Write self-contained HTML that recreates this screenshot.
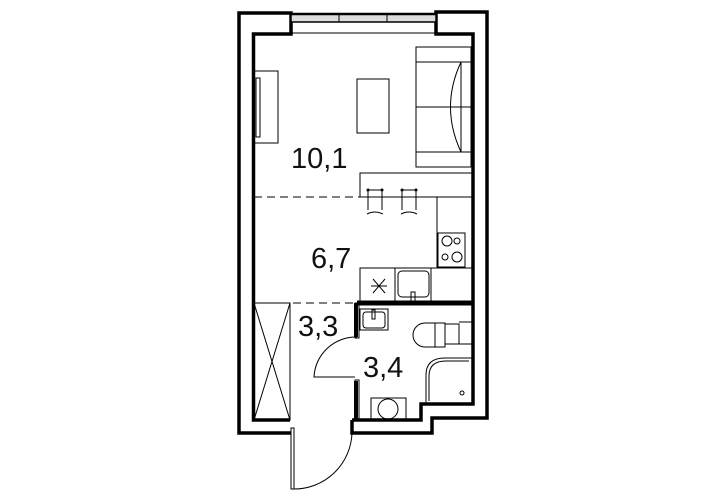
<!DOCTYPE html><html><head><style>body{margin:0;background:#fff}svg{display:block}text{font-family:"Liberation Sans",sans-serif;font-size:29px;fill:#111}</style></head><body>
<svg width="725" height="500" viewBox="0 0 725 500" xmlns="http://www.w3.org/2000/svg">
<g fill="none" stroke="#000">
<!-- walls -->
<path d="M291,433 H239 V13 H291 V22" stroke-width="3.5"/>
<path d="M290,420 H253.5 V34 H291 V22" stroke-width="3.5"/>
<path d="M436,22 V12 H487 V418 H432 V433 H352 V420" stroke-width="3.5"/>
<path d="M436,22 V34 H473 V404 H421 V420 H352" stroke-width="3.5"/>
<!-- window -->
<rect x="291" y="14" width="145" height="8" fill="#ddd" stroke-width="1.5"/>
<line x1="291" y1="14" x2="436" y2="14" stroke-width="2.5"/>
<line x1="291" y1="33" x2="436" y2="33" stroke-width="1"/>
<line x1="339" y1="14" x2="339" y2="22" stroke-width="1"/><line x1="387" y1="14" x2="387" y2="22" stroke-width="1"/>
<!-- bath walls -->
<path d="M357,303 H473" stroke-width="5"/>
<path d="M356,303 V337" stroke-width="4"/>
<path d="M356,381 V420" stroke-width="4"/>
<g stroke-width="1">
<rect x="355" y="303" width="4" height="35"/><rect x="355" y="380" width="4" height="40"/>
<!-- dashed -->
<line x1="254" y1="197" x2="360" y2="197" stroke-dasharray="8,5"/>
<line x1="254" y1="303" x2="355" y2="303" stroke-dasharray="8,5"/>
<!-- tv -->
<rect x="254" y="71" width="24" height="72"/><rect x="256" y="78" width="4" height="59"/>
<!-- table -->
<rect x="357" y="79" width="32" height="54"/>
<!-- sofa -->
<rect x="416" y="47" width="55" height="120"/>
<line x1="416" y1="62" x2="471" y2="62"/><line x1="416" y1="107" x2="471" y2="107"/><line x1="416" y1="152" x2="471" y2="152"/>
<path d="M461,62 Q440,107 461,152"/><line x1="461" y1="62" x2="461" y2="152"/>
<!-- kitchen -->
<rect x="360" y="173" width="113" height="24"/>
<path d="M437,197 V268"/>
<rect x="438" y="233" width="27" height="34"/>
<circle cx="447" cy="241" r="5"/><circle cx="457" cy="241" r="3"/><circle cx="445" cy="257" r="3"/><circle cx="457" cy="257" r="5"/>
<rect x="360" y="268" width="113" height="35"/>
<line x1="395" y1="268" x2="395" y2="303"/><line x1="431" y1="268" x2="431" y2="303"/>
<path d="M371,286 h16 M373,279 l12,14 M385,279 l-12,14"/>
<rect x="398" y="271" width="31" height="26" rx="4"/><rect x="411" y="292" width="4" height="10"/>
<!-- stools -->
<g><path d="M368,190 h14 v20 M368,190 v20 M367,214 q8,-4 16,0"/><circle cx="368" cy="190" r="1"/><circle cx="382" cy="190" r="1"/></g>
<g transform="translate(34,0)"><path d="M368,190 h14 v20 M368,190 v20 M367,214 q8,-4 16,0"/><circle cx="368" cy="190" r="1"/><circle cx="382" cy="190" r="1"/></g>
<!-- closet -->
<rect x="254" y="303" width="36" height="117"/>
<path d="M254,303 L290,420 M290,303 L254,420"/>
<!-- bath door -->
<path d="M357,337 A42,42 0 0 0 314,377 H355"/>
<!-- entrance door -->
<rect x="291" y="428" width="3" height="61"/>
<path d="M294,489 A58,58 0 0 0 352,433"/>
<!-- bath fixtures -->
<rect x="360" y="309" width="28" height="21"/><rect x="363" y="312" width="22" height="16" rx="3"/><rect x="372" y="310" width="3" height="9"/>
<path d="M445,323 H425 A12,12 0 0 0 425,347 H445 Z"/><line x1="435" y1="323" x2="435" y2="347"/>
<path d="M445,324 H459 V344 H445"/><path d="M459,322 H472 V344 H459"/>
<path d="M426,404 V375 Q426,358 445,358 H472 V404 Z"/><path d="M429,401 V376 Q429,361 446,361 H469"/>
<circle cx="462" cy="393" r="2"/>
<rect x="371" y="398" width="35" height="22"/><circle cx="388" cy="409" r="10"/>
</g></g>
<text x="291" y="168">10,1</text>
<text x="311" y="268">6,7</text>
<text x="298" y="336">3,3</text>
<text x="363" y="377">3,4</text>
</svg></body></html>
